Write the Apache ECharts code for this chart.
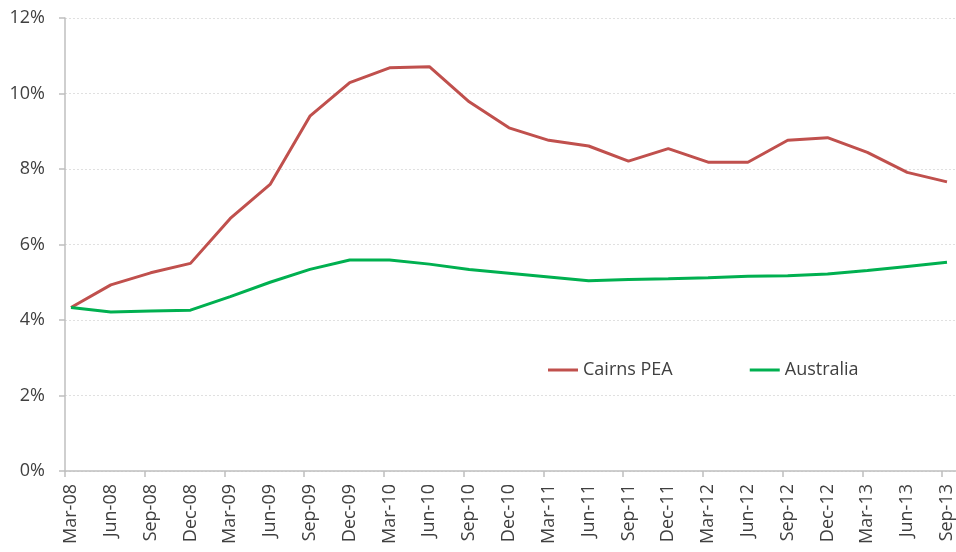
<!DOCTYPE html>
<html>
<head>
<meta charset="utf-8">
<script src="https://cdn.jsdelivr.net/npm/echarts@6/dist/echarts.min.js"></script>
<style>
  html, body { margin: 0; padding: 0; background: #fff; }
  #chart { width: 956px; height: 552px; }
</style>
</head>
<body>
<div id="chart"></div>
<script>
// quarters on the x axis
const quarters = [
  'Mar-08', 'Jun-08', 'Sep-08', 'Dec-08',
  'Mar-09', 'Jun-09', 'Sep-09', 'Dec-09',
  'Mar-10', 'Jun-10', 'Sep-10', 'Dec-10',
  'Mar-11', 'Jun-11', 'Sep-11', 'Dec-11',
  'Mar-12', 'Jun-12', 'Sep-12', 'Dec-12',
  'Mar-13', 'Jun-13', 'Sep-13',
];

// unemployment rate, %
const cairns = [
  4.33, 4.93, 5.25, 5.50,
  6.69, 7.59, 9.40, 10.29,
  10.68, 10.71, 9.78, 9.09,
  8.76, 8.61, 8.21, 8.54,
  8.18, 8.18, 8.76, 8.83,
  8.44, 7.91, 7.66,
];
const australia = [
  4.33, 4.21, 4.24, 4.26,
  4.62, 5.00, 5.34, 5.59,
  5.59, 5.48, 5.34, 5.24,
  5.14, 5.04, 5.07, 5.09,
  5.12, 5.16, 5.17, 5.22,
  5.31, 5.42, 5.53,
];
const seriesNames = ['Cairns PEA', 'Australia'];

const yTicks = { min: 0, max: 12, interval: 2 };

const FONT = '"Open Sans", "Noto Sans", sans-serif';
const axisGray = '#bfbfbf';
const textGray = '#404040';

const chart = echarts.init(document.getElementById('chart'));

const hiddenY = {
  type: 'value',
  min: yTicks.min,
  max: yTicks.max,
  show: false,
};

chart.setOption({
  animation: false,
  textStyle: { fontFamily: FONT },
  // 0: frame + y axis, 1: category ticks, 2: data lines + labels (sit a bit right of the ticks)
  grid: [
    { left: 65, right: 0, top: 18, bottom: 81 },
    { left: 65, right: 14, top: 18, bottom: 81 },
    { left: 71, right: 8, top: 18, bottom: 81 },
  ],
  legend: {
    data: seriesNames,
    left: 548,
    top: 361,
    padding: 0,
    icon: 'rect',
    itemWidth: 30,
    itemHeight: 3,
    itemGap: 77,
    textStyle: { fontFamily: FONT, fontSize: 18, color: textGray },
  },
  xAxis: [
    {
      gridIndex: 0,
      type: 'value',
      min: 0,
      max: 1,
      axisLine: { show: true, lineStyle: { color: axisGray, width: 1.5 } },
      axisTick: { show: false },
      axisLabel: { show: false },
      splitLine: { show: false },
    },
    {
      gridIndex: 1,
      type: 'category',
      data: quarters,
      boundaryGap: false,
      axisLine: { show: false },
      axisTick: { show: true, length: 6, lineStyle: { color: axisGray, width: 1.5 } },
      axisLabel: { show: false },
      splitLine: { show: false },
    },
    {
      gridIndex: 2,
      type: 'category',
      data: quarters,
      boundaryGap: false,
      axisLine: { show: false },
      axisTick: { show: false },
      axisLabel: {
        interval: 0,
        rotate: 90,
        margin: 13,
        fontSize: 18,
        color: textGray,
        fontFamily: FONT,
      },
      splitLine: { show: false },
    },
  ],
  yAxis: [
    {
      gridIndex: 0,
      type: 'value',
      min: yTicks.min,
      max: yTicks.max,
      interval: yTicks.interval,
      axisLine: { show: true, lineStyle: { color: axisGray, width: 1.5 } },
      axisTick: { show: true, length: 6, lineStyle: { color: axisGray, width: 1.5 } },
      axisLabel: {
        formatter: '{value}%',
        margin: 20,
        fontSize: 18,
        color: textGray,
        fontFamily: FONT,
      },
      splitLine: {
        show: true,
        lineStyle: { color: '#e0e0e0', type: [2, 2], width: 1 },
      },
    },
    Object.assign({ gridIndex: 1 }, hiddenY),
    Object.assign({ gridIndex: 2 }, hiddenY),
  ],
  series: [
    {
      name: seriesNames[0],
      type: 'line',
      xAxisIndex: 2,
      yAxisIndex: 2,
      data: cairns,
      symbol: 'none',
      lineStyle: { color: '#C0504D', width: 3 },
      itemStyle: { color: '#C0504D' },
    },
    {
      name: seriesNames[1],
      type: 'line',
      xAxisIndex: 2,
      yAxisIndex: 2,
      data: australia,
      symbol: 'none',
      lineStyle: { color: '#00B050', width: 3 },
      itemStyle: { color: '#00B050' },
    },
  ],
});
</script>
</body>
</html>
